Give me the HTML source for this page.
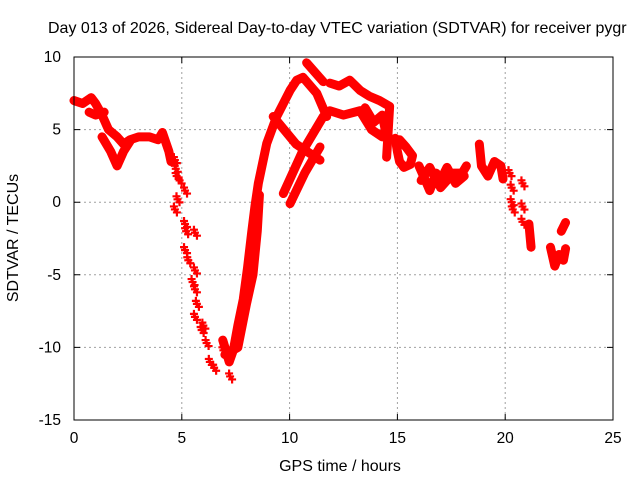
<!DOCTYPE html>
<html><head><meta charset="utf-8"><style>
html,body{margin:0;padding:0;background:#fff;}
svg{display:block;font-family:"Liberation Sans",Arial,sans-serif;}
</style></head><body>
<svg id="chart" width="640" height="480" viewBox="0 0 640 480">
<rect width="640" height="480" fill="#fff"/>
<text x="48" y="33" font-size="16" fill="#000">Day 013 of 2026, Sidereal Day-to-day VTEC variation (SDTVAR) for receiver pygr</text>
<g id="grid"></g>
<g id="series"></g>
<rect x="74" y="57" width="539" height="363" fill="none" stroke="#000" stroke-width="1"/>
<g id="ticks"></g>
<text x="340" y="471" font-size="16" text-anchor="middle">GPS time / hours</text>
<text transform="translate(18,238) rotate(-90)" font-size="16" text-anchor="middle">SDTVAR / TECUs</text>
</svg>
<script>
const xTicks = [0, 5, 10, 15, 20, 25];
const yTicks = [10, 5, 0, -5, -10, -15];
const trackAHours = [0.0, 0.4, 0.8, 1.0, 1.3, 1.6, 2.0, 2.3, 2.6, 3.0, 3.5, 3.9, 4.1, 4.4, 4.5];
const trackAValues = [7.0, 6.8, 7.2, 6.8, 6.0, 5.0, 4.5, 4.0, 4.3, 4.5, 4.5, 4.3, 4.8, 3.5, 2.8];
const trackBHours = [0.7, 1.0, 1.4];
const trackBValues = [6.2, 6.0, 6.2];
const trackCHours = [1.3, 1.7, 2.0, 2.3, 2.6];
const trackCValues = [4.5, 3.5, 2.5, 3.5, 4.2];
const descentHours = [4.68, 4.72, 4.76, 4.9, 5.15, 4.68, 4.8, 5.15, 5.2, 5.61, 5.15, 5.3, 5.61, 5.5, 5.61, 5.7, 5.61, 5.92, 6.0, 6.15, 6.3, 6.5, 6.93, 7.24];
const descentValues = [2.9, 2.3, 1.8, 1.5, 0.8, -0.5, 0.2, -1.5, -2.0, -2.1, -3.3, -4.0, -4.7, -5.5, -6.0, -7.0, -7.9, -8.8, -8.5, -9.7, -11.0, -11.4, -10.2, -12.0];
const ascentHours = [6.9, 7.2, 7.39, 7.6, 7.85, 8.05, 8.24, 8.4, 8.55, 8.94, 9.4, 10.02, 10.33, 10.62, 11.26, 11.72];
const ascentValues = [-9.5, -11.0, -10.2, -8.5, -6.7, -4.5, -2.1, -0.2, 1.3, 4.05, 5.9, 7.7, 8.4, 8.6, 7.5, 5.9];
const ascent2Hours = [7.0, 7.6, 8.0, 8.3, 8.5, 8.6];
const ascent2Values = [-10.5, -10.0, -7.0, -5.0, -2.0, 0.5];
const diagHours = [10.79, 11.56];
const diagValues = [9.6, 8.3];
const upperHours = [11.87, 12.3, 12.79, 13.27, 13.7, 14.17, 14.64, 14.5];
const upperValues = [8.2, 8.0, 8.4, 7.7, 7.3, 7.0, 6.6, 3.1];
const lowerHours = [11.87, 12.5, 13.26, 13.8, 14.3, 14.5];
const lowerValues = [6.3, 6.0, 6.3, 5.0, 4.5, 5.2];
const upper2Hours = [13.5, 13.9, 14.3, 14.5];
const upper2Values = [6.5, 5.5, 6.0, 4.5];
const xAHours = [9.71, 10.6, 11.56];
const xAValues = [0.6, 3.5, 5.9];
const xBHours = [10.02, 10.7, 11.41];
const xBValues = [-0.1, 2.0, 3.8];
const xCHours = [9.24, 10.3, 11.41];
const xCValues = [5.9, 4.0, 2.9];
const c15Hours = [14.9, 15.0, 15.1, 15.3, 15.6, 15.7, 15.4, 15.1];
const c15Values = [4.4, 3.5, 2.8, 2.4, 2.6, 3.2, 3.8, 4.3];
const c17Hours = [16.0, 16.3, 16.5, 16.8, 17.0, 17.3, 17.6, 18.0, 18.2];
const c17Values = [2.5, 1.5, 0.8, 2.0, 1.0, 1.5, 2.0, 2.0, 2.5];
const c17bHours = [16.1, 16.5, 16.9, 17.3, 17.7, 18.1];
const c17bValues = [1.5, 2.4, 1.2, 2.4, 1.3, 1.8];
const c19Hours = [18.8, 18.9, 19.2, 19.5, 19.8, 19.9];
const c19Values = [4.0, 2.5, 1.8, 2.8, 2.5, 1.6];
const c20Hours = [20.2, 20.3, 20.3, 20.35];
const c20Values = [2.0, 1.0, 0.0, -0.5];
const c21Hours = [20.8, 20.8, 20.8];
const c21Values = [1.3, -0.3, -1.35];
const c21bHours = [21.1, 21.15, 21.2];
const c21bValues = [-1.5, -2.3, -3.1];
const c22Hours = [22.1, 22.3, 22.5, 22.7, 22.8];
const c22Values = [-3.1, -4.4, -3.6, -4.0, -3.2];
const c22bHours = [22.6, 22.8];
const c22bValues = [-2.0, -1.4];
const lineTracks = [
  [trackAHours, trackAValues], [trackBHours, trackBValues], [trackCHours, trackCValues],
  [ascentHours, ascentValues], [ascent2Hours, ascent2Values], [diagHours, diagValues],
  [upperHours, upperValues], [lowerHours, lowerValues], [upper2Hours, upper2Values], [xAHours, xAValues],
  [xBHours, xBValues], [xCHours, xCValues], [c15Hours, c15Values], [c17Hours, c17Values], [c17bHours, c17bValues],
  [c19Hours, c19Values], [c21bHours, c21bValues], [c22Hours, c22Values], [c22bHours, c22bValues]
];
const pointTracks = [[descentHours, descentValues], [c20Hours, c20Values], [c21Hours, c21Values]];
const X0 = 74, X1 = 613, Y0 = 57, Y1 = 420;
function xs(h){ return X0 + (h - 0) / 25 * (X1 - X0); }
function ys(v){ return Y0 + (10 - v) / 25 * (Y1 - Y0); }
const NS = "http://www.w3.org/2000/svg";
const grid = document.getElementById('grid');
const ticks = document.getElementById('ticks');
const series = document.getElementById('series');
function mk(tag, attrs, parent){ const e = document.createElementNS(NS, tag); for (const k in attrs) e.setAttribute(k, attrs[k]); parent.appendChild(e); return e; }
xTicks.forEach(t => {
  const x = xs(t);
  if (t > 0 && t < 25) {
    const g = mk('line', {x1:x, y1:Y0, x2:x, y2:Y1, stroke:'#a0a0a0', 'stroke-dasharray':'2,3', 'stroke-width':1}, grid);
    
    
  }
  const tk = mk('path', {d:`M${x},${Y1}v-6M${x},${Y0}v6`, stroke:'#000'}, ticks);
  
  
  const lb = mk('text', {x:x, y:443, 'font-size':15.5, 'text-anchor':'middle'}, ticks);
  lb.textContent = t;
  
  
});
yTicks.forEach(t => {
  const y = ys(t);
  if (t > -15 && t < 10) {
    const g = mk('line', {x1:X0, y1:y, x2:X1, y2:y, stroke:'#a0a0a0', 'stroke-dasharray':'2,3', 'stroke-width':1}, grid);
    
    
  }
  const tk = mk('path', {d:`M${X0},${y}h6M${X1},${y}h-6`, stroke:'#000'}, ticks);
  
  
  const lb = mk('text', {x:61, y:y+5, 'font-size':15.5, 'text-anchor':'end'}, ticks);
  lb.textContent = t;
  
  
});
function plus(x, y, w){
  const p = mk('path', {d:`M${x-4},${y}h8M${x},${y-4}v8`, stroke:'#ff0000', 'stroke-width':w}, series);
  
  
}
lineTracks.forEach(([hs, vs]) => {
  const pts = hs.map((h, i) => xs(h) + ',' + ys(vs[i])).join(' ');
  const pl = mk('polyline', {points:pts, fill:'none', stroke:'#ff0000', 'stroke-width':9, 'stroke-linejoin':'round', 'stroke-linecap':'round'}, series);
  
  
  hs.forEach((h, i) => plus(xs(h), ys(vs[i]), 1.4));
});
pointTracks.forEach(([hs, vs]) => {
  hs.forEach((h, i) => { const x = xs(h), y = ys(vs[i]); plus(x, y, 2.2); plus(x + 2, y + 3, 2.2); plus(x - 1, y - 3, 2.2); });
});
</script>
</body></html>
